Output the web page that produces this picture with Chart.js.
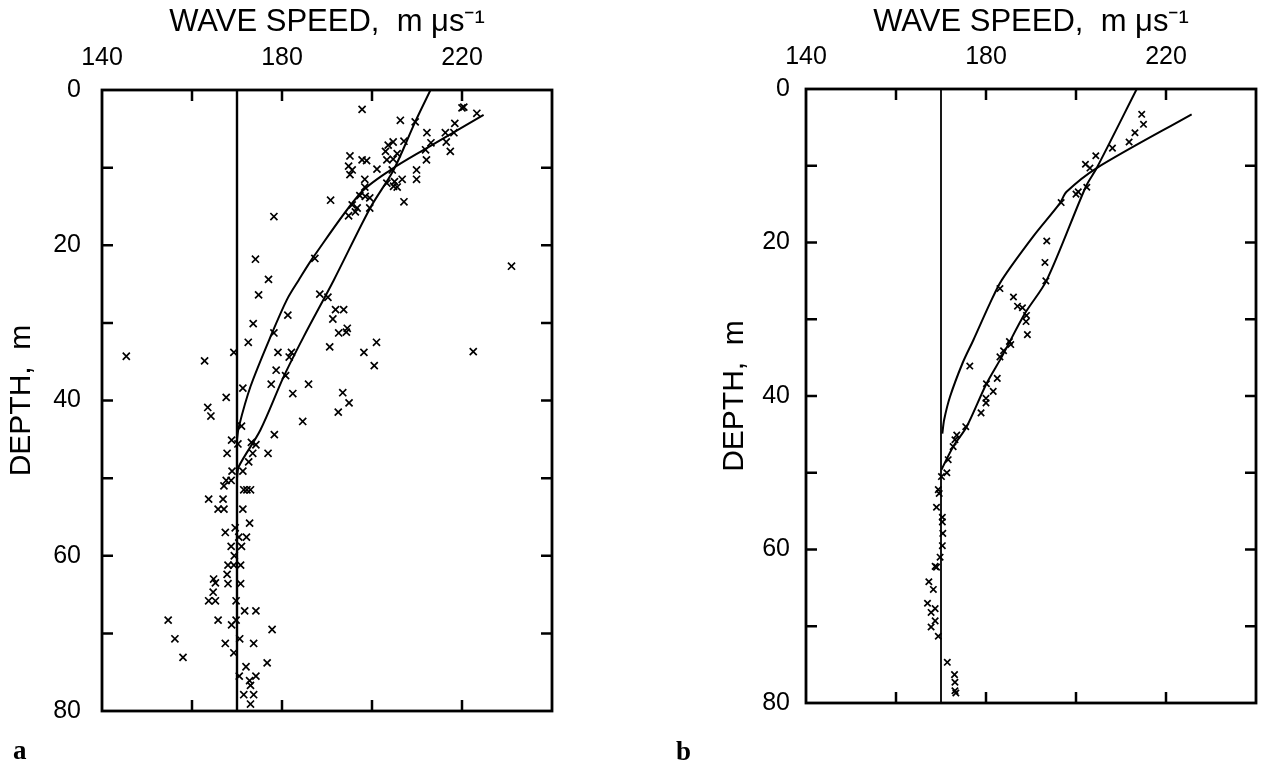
<!DOCTYPE html>
<html>
<head>
<meta charset="utf-8">
<script src="https://cdn.jsdelivr.net/npm/chart.js@4"></script>
<style>
  body { margin: 0; background: #fff; width: 1262px; height: 772px; position: relative; overflow: hidden; }
  canvas { position: absolute; top: 0; }
  #chartA { left: 0; }
  #chartB { left: 640px; }
  .tag { position: absolute; font-family: "Liberation Serif", serif; font-weight: bold; font-size: 27px; line-height: 1; }
</style>
</head>
<body>
<canvas id="chartA" width="620" height="772"></canvas>
<canvas id="chartB" width="640" height="772"></canvas>
<div class="tag" style="left:13px; top:737px;">a</div>
<div class="tag" style="left:676px; top:738px;">b</div>
<script>
// axis text
const xTitle = 'WAVE SPEED,  m \u03bcs\u207b\u00b9';
const yTitle = 'DEPTH,  m';
const xLabelled = [140, 180, 220];
const yLabelled = [0, 20, 40, 60, 80];

// reference line (constant speed)
const refSpeed = [170, 170];
const refDepth = [0, 80];

// panel a - measurements
const speedA = [
  197.8, 220.0, 220.4, 223.3, 206.3, 209.6, 212.2, 218.4, 216.3, 218.2, 207.1, 213.1, 204.7, 203.6, 203.0, 216.5,
  211.9, 217.4, 205.6, 203.3, 204.7, 195.1, 197.8, 198.8, 212.1, 194.8, 195.6, 195.1, 201.1, 204.5, 209.9, 209.9,
  206.7, 198.4, 205.0, 203.3, 205.6, 204.8, 198.4, 197.3, 198.5, 199.5, 207.1, 190.8, 195.6, 196.7, 196.3, 194.8,
  199.5, 178.2, 174.1, 177.0, 187.3, 231.0, 174.8, 188.4, 190.2,
  191.9, 193.7, 191.3, 181.3, 173.6, 194.5, 194.3, 192.6, 178.2, 172.5, 201.0, 190.6, 198.2, 200.5, 169.3, 145.4,
  162.8, 179.1, 182.1, 181.6, 222.5, 178.7, 180.8, 177.6, 185.9, 171.3, 182.4, 193.5, 194.9, 167.6, 163.5, 164.2,
  192.5, 184.6, 171.0, 178.3, 168.8, 170.2, 173.2, 174.2, 173.5, 167.8, 176.9, 172.6, 168.9, 171.3, 167.6, 168.7,
  167.1, 171.5, 172.2, 173.0, 163.7, 166.9,
  165.8, 167.1, 171.3, 172.8, 169.6, 167.4, 170.4, 172.1, 168.7, 171.0, 169.4, 168.0, 169.3, 170.8, 167.8, 164.8,
  165.2, 168.0, 170.8, 164.7, 163.7, 165.2, 169.8, 171.7, 174.2, 154.7, 165.8, 168.8, 169.8, 177.8, 156.2, 170.6,
  167.4, 173.7, 169.3, 158.0, 176.7, 172.0, 170.5, 174.2, 172.8, 173.0, 171.5, 173.7, 173.0
];
const depthA = [
  2.5, 2.3, 2.2, 3.0, 3.9, 4.1, 5.5, 4.3, 5.5, 5.5, 6.6, 6.8, 6.7, 7.1, 7.9, 6.7,
  7.7, 7.9, 8.2, 9.0, 8.9, 8.5, 9.0, 9.1, 9.0, 9.8, 10.3, 10.9, 10.2, 10.3, 10.3, 11.5,
  11.5, 11.5, 11.8, 12.0, 12.5, 12.4, 12.5, 13.6, 13.7, 13.9, 14.4, 14.2, 14.8, 15.2, 15.7, 16.2,
  15.2, 16.3, 21.8, 24.4, 21.7, 22.7, 26.4, 26.3, 26.7,
  28.3, 28.3, 29.5, 29.0, 30.1, 30.7, 31.2, 31.3, 31.3, 32.5, 32.5, 33.1, 33.8, 35.5, 33.8, 34.3,
  34.9, 33.8, 33.8, 34.4, 33.7, 36.1, 36.8, 37.9, 37.9, 38.4, 39.1, 39.0, 40.3, 39.6, 40.9, 42.0,
  41.5, 42.7, 43.3, 44.4, 45.1, 45.6, 45.4, 45.7, 46.8, 46.8, 46.8, 47.9, 49.1, 49.1, 50.3, 50.3,
  51.0, 51.5, 51.5, 51.5, 52.7, 52.7,
  54.0, 54.0, 54.0, 55.8, 56.4, 57.0, 57.6, 57.6, 58.8, 58.8, 60.0, 61.2, 61.2, 61.2, 62.4, 63.0,
  63.5, 63.6, 63.6, 64.7, 65.8, 65.8, 65.8, 67.1, 67.1, 68.3, 68.3, 68.9, 68.3, 69.5, 70.7, 70.7,
  71.3, 71.3, 72.5, 73.1, 73.8, 74.3, 75.5, 75.5, 76.1, 76.7, 77.9, 77.9, 79.1
];

// panel a - fitted curves
const fitA1Speed = [213.0, 209.6, 204.8, 199.6, 191.5, 184.8, 180.4, 175.2, 170.4, 170.0];
const fitA1Depth = [0, 4.1, 10.3, 15.2, 24.5, 31.8, 36.9, 43.8, 48.5, 50.0];
const fitA2Speed = [224.8, 211.5, 204.1, 197.4, 187.0, 183.7, 181.1, 177.8, 173.0, 170.4, 170.0];
const fitA2Depth = [3.2, 7.7, 10.3, 13.3, 21.5, 24.5, 27.0, 31.3, 38.2, 43.4, 45.0];

// panel b - measurements
const speedB = [
  214.6, 215.0, 213.1, 211.8, 208.1, 204.4, 202.1, 203.1, 202.4, 200.5, 200.0, 196.7, 193.5, 193.1, 193.3, 183.1,
  186.1, 187.0, 188.1, 189.0, 188.9, 189.2, 185.2, 185.5, 183.9, 183.1, 176.4, 182.5, 180.1, 181.6, 180.0, 180.0,
  178.9, 175.5, 173.5, 173.1, 172.7, 171.6, 171.3, 170.1, 169.4, 169.6,
  169.0, 170.3, 170.3, 170.4, 170.3, 169.8, 168.7, 169.0, 167.3, 168.3, 167.0, 168.7, 167.8, 168.7, 167.8, 169.4,
  171.4, 173.0, 173.1, 173.1, 173.3
];
const depthB = [
  3.3, 4.6, 5.7, 6.9, 7.7, 8.7, 9.8, 10.3, 12.8, 13.4, 13.7, 14.8, 19.8, 22.6, 25.0, 26.0,
  27.1, 28.3, 28.5, 29.5, 30.3, 32.0, 32.9, 33.3, 34.1, 34.9, 36.1, 37.7, 38.4, 39.4, 40.3, 40.9,
  42.2, 44.0, 45.1, 45.7, 46.6, 48.3, 50.0, 50.5, 52.2, 52.7,
  54.5, 55.8, 56.4, 57.9, 59.5, 61.0, 62.2, 62.3, 64.2, 65.2, 67.0, 67.7, 68.2, 69.3, 70.1, 71.3,
  74.7, 76.3, 77.3, 78.4, 78.7
];

// panel b - fitted curves
const fitB1Speed = [213.5, 204.6, 202.2, 193.5, 188.7, 183.5, 180.1, 175.7, 172.7, 170.1];
const fitB1Depth = [0, 10.3, 12.7, 24.9, 29.2, 34.9, 38.4, 44.0, 46.6, 49.6];
const fitB2Speed = [225.7, 204.6, 197.9, 196.4, 190.5, 183.5, 180.9, 177.2, 174.8, 172.0, 170.7, 170.3];
const fitB2Depth = [3.3, 10.3, 13.4, 14.9, 19.2, 24.9, 27.9, 32.7, 35.7, 40.1, 43.1, 44.9];

function pairs(xs, ys) {
  return xs.map((v, i) => ({ x: v, y: ys[i] }));
}

// inward tick marks on all four sides plus the box
const frameTicks = {
  id: 'frameTicks',
  afterDatasetsDraw(chart, args, opts) {
    const { ctx, chartArea: a } = chart;
    const x = chart.scales.x, y = chart.scales.y;
    ctx.save();
    ctx.strokeStyle = '#000';
    ctx.lineWidth = opts.tickWidth;
    ctx.beginPath();
    x.ticks.forEach(t => {
      if (t.value <= x.min || t.value >= x.max) return;
      const px = x.getPixelForValue(t.value);
      ctx.moveTo(px, a.top); ctx.lineTo(px, a.top + opts.len);
      ctx.moveTo(px, a.bottom); ctx.lineTo(px, a.bottom - opts.len);
    });
    y.ticks.forEach(t => {
      if (t.value <= y.min || t.value >= y.max) return;
      const py = y.getPixelForValue(t.value);
      ctx.moveTo(a.left, py); ctx.lineTo(a.left + opts.len, py);
      ctx.moveTo(a.right, py); ctx.lineTo(a.right - opts.len, py);
    });
    ctx.stroke();
    ctx.lineWidth = opts.frameWidth;
    ctx.strokeRect(a.left, a.top, a.right - a.left, a.bottom - a.top);
    ctx.restore();
  }
};

const sansFont = 'Liberation Sans, Arial, sans-serif';

function makeChart(id, cfg) {
  const ctx = document.getElementById(id).getContext('2d');
  return new Chart(ctx, {
    type: 'scatter',
    data: {
      datasets: [
        { data: pairs(refSpeed, refDepth), showLine: true, borderColor: '#000', borderWidth: cfg.refWidth, pointRadius: 0 },
        { data: pairs(cfg.fit1Speed, cfg.fit1Depth), showLine: true, borderColor: '#000', borderWidth: 2, pointRadius: 0, tension: 0.3 },
        { data: pairs(cfg.fit2Speed, cfg.fit2Depth), showLine: true, borderColor: '#000', borderWidth: 2, pointRadius: 0, tension: 0.3 },
        { data: pairs(cfg.speed, cfg.depth), pointStyle: 'crossRot', pointRadius: cfg.markSize, borderColor: '#000', borderWidth: 1.7 }
      ]
    },
    options: {
      responsive: false,
      animation: false,
      events: [],
      layout: { padding: cfg.padding },
      plugins: {
        legend: { display: false },
        tooltip: { enabled: false },
        frameTicks: { len: 11, tickWidth: 2.5, frameWidth: 2.8 }
      },
      scales: {
        x: {
          type: 'linear',
          position: 'top',
          min: 140,
          max: 240,
          grid: { display: false, drawTicks: false },
          border: { display: false },
          ticks: {
            stepSize: 20,
            autoSkip: false,
            maxRotation: 0,
            padding: 17,
            color: '#000',
            font: { family: sansFont, size: 25 },
            callback: v => xLabelled.includes(v) ? String(v) : ''
          },
          title: { display: true, text: xTitle, color: '#000', font: { family: sansFont, size: 31 }, padding: { top: 4, bottom: 0 } },
          afterFit: s => { s.height = cfg.xHeight; }
        },
        y: {
          type: 'linear',
          reverse: true,
          min: 0,
          max: 80,
          grid: { display: false, drawTicks: false },
          border: { display: false },
          ticks: {
            stepSize: 10,
            autoSkip: false,
            padding: cfg.yPad,
            color: '#000',
            font: { family: sansFont, size: 25 },
            callback: v => yLabelled.includes(v) ? String(v) : ''
          },
          title: { display: true, text: yTitle, color: '#000', font: { family: sansFont, size: 30 }, padding: { top: 4, bottom: 0 } },
          afterFit: s => { s.width = cfg.yWidth; }
        }
      }
    },
    plugins: [frameTicks]
  });
}

makeChart('chartA', {
  speed: speedA, depth: depthA,
  fit1Speed: fitA1Speed, fit1Depth: fitA1Depth,
  fit2Speed: fitA2Speed, fit2Depth: fitA2Depth,
  padding: { left: 0, right: 68, top: 0, bottom: 61 },
  xHeight: 90, yWidth: 102, yPad: 21, markSize: 5, refWidth: 2.4
});

makeChart('chartB', {
  speed: speedB, depth: depthB,
  fit1Speed: fitB1Speed, fit1Depth: fitB1Depth,
  fit2Speed: fitB2Speed, fit2Depth: fitB2Depth,
  padding: { left: 73, right: 24, top: 0, bottom: 69 },
  xHeight: 89, yWidth: 93, yPad: 16, markSize: 4.5, refWidth: 1.8
});
</script>
</body>
</html>
